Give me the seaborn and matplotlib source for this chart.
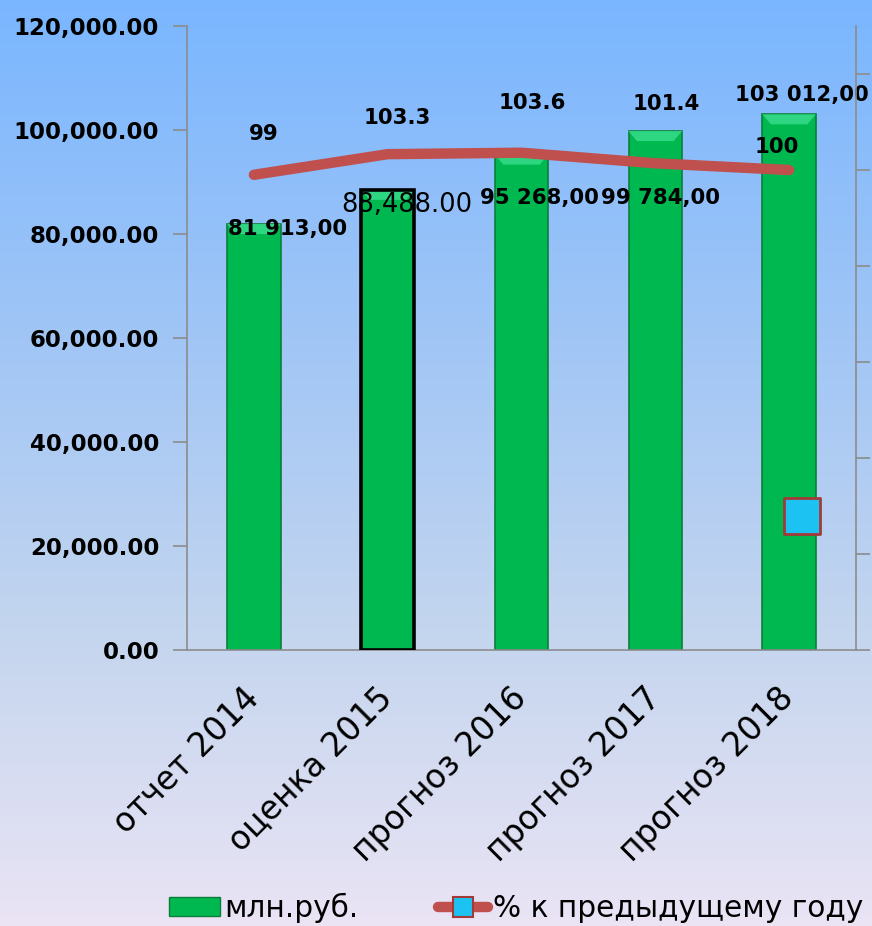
import numpy as np
import pandas as pd
import matplotlib
matplotlib.use('Agg')
import matplotlib.pyplot as plt
import seaborn as sns
from matplotlib.colors import LinearSegmentedColormap
from matplotlib.lines import Line2D
from matplotlib.patches import Patch, Polygon

# ---- data ----
categories = ['отчет 2014', 'оценка 2015', 'прогноз 2016', 'прогноз 2017', 'прогноз 2018']
values_mln = [81913, 88488, 95268, 99784, 103012]
bar_labels = ['81 913,00', '88,488.00', '95 268,00', '99 784,00', '103 012,00']
pct_values = [99, 103.3, 103.6, 101.4, 100]
pct_labels = ['99', '103.3', '103.6', '101.4', '100']
stray_marker_value = [28]
left_ticks = [0, 20000, 40000, 60000, 80000, 100000, 120000]
right_ticks = [0, 20, 40, 60, 80, 100, 120]
legend_labels = ['млн.руб.', '% к предыдущему году']

df = pd.DataFrame({'cat': categories, 'val': values_mln, 'pct': pct_values})

sns.set_theme(style='white')
plt.rcParams['font.family'] = ['DejaVu Sans']

fig = plt.figure(figsize=(8.72, 9.26), dpi=100)

# background gradient
bg = fig.add_axes([0, 0, 1, 1], zorder=-10)
cmap = LinearSegmentedColormap.from_list('bg', [(0.0, '#7AB6FF'), (0.35, '#9FC5F6'),
                                               (0.70, '#C6D6EE'), (1.0, '#EAE4F5')])
grad = np.linspace(0, 1, 256).reshape(-1, 1)
bg.imshow(grad, aspect='auto', cmap=cmap, extent=[0, 1, 0, 1], origin='upper')
bg.axis('off')

ax_h_px = 650 - 26
ax = fig.add_axes([187/872, 1-650/926, (856-187)/872, ax_h_px/926])
ax.set_facecolor('none')

sns.barplot(data=df, x='cat', y='val', ax=ax, color='#00B850', width=0.4,
            saturation=1, edgecolor='#0B7F3A', linewidth=1.2, zorder=2)
ax.set_ylim(0, 120000)
ax.set_xlim(-0.5, 4.5)

# bevel highlight on top of each bar
units_per_px = 120000 / ax_h_px
bars = list(ax.patches)
for i, p in enumerate(bars):
    x0 = p.get_x()
    w = p.get_width()
    top = p.get_height()
    h = 10 * units_per_px
    inset = w * 0.16
    ax.add_patch(Polygon([(x0, top), (x0 + w, top), (x0 + w - inset, top - h), (x0 + inset, top - h)],
                         closed=True, facecolor='#2ED681', edgecolor='none', zorder=2.5))
    if i == 1:
        ax.add_patch(Polygon([(x0, 0), (x0 + w, 0), (x0 + w, top), (x0, top)], closed=True,
                             facecolor='none', edgecolor='black', linewidth=2.6, zorder=2.7))

ax.set_yticks(left_ticks)
ax.set_yticklabels([f'{v:,.2f}' for v in left_ticks], fontsize=16.5, fontweight='bold', color='black')
ax.set_xticks(range(len(categories)))
ax.set_xticklabels(categories, rotation=45, ha='right', va='center',
                   rotation_mode='anchor', fontsize=23.5, color='black')
ax.set_xticks(np.arange(-0.5, 5, 1), minor=True)
ax.tick_params(axis='x', which='major', length=0, pad=31)
ax.tick_params(axis='x', which='minor', length=10, width=1.2, color='#8C8C8C', direction='out')
ax.tick_params(axis='y', length=10, width=1.2, color='#8C8C8C', direction='out', pad=10)
ax.set_xlabel('')
ax.set_ylabel('')
for s in ['top', 'right']:
    ax.spines[s].set_visible(False)
for s in ['left', 'bottom']:
    ax.spines[s].set_color('#8C8C8C')
    ax.spines[s].set_linewidth(1.2)

# bar labels
bar_offsets = [(34, -5), (19, -15), (18, -43), (5, -67), (13, 19)]
bar_styles = [('bold', 15.3), ('normal', 18.5), ('bold', 15.3), ('bold', 15.3), ('bold', 15.3)]
for i, (v, lab) in enumerate(zip(values_mln, bar_labels)):
    ax.annotate(lab, (i, v), xytext=bar_offsets[i], textcoords='offset pixels',
                ha='center', va='center', fontsize=bar_styles[i][1],
                fontweight=bar_styles[i][0], color='black', zorder=5)

# secondary axis with line
ax2 = ax.twinx()
ax2.set_facecolor('none')
sns.lineplot(data=df, x='cat', y='pct', ax=ax2, color='#C0504D', linewidth=7.5,
             solid_capstyle='round', solid_joinstyle='round', zorder=3, sort=False)
ax2.scatter([len(categories) - 1 + 0.1], stray_marker_value, marker='s', s=26**2,
            color='#1CC3F2', edgecolor='#A33A36', linewidth=2, zorder=4)
ax2.set_ylim(0, 130)
ax2.set_yticks(right_ticks)
ax2.set_yticklabels([])
ax2.set_ylabel('')
ax2.set_xlabel('')
ax2.tick_params(axis='y', length=10, width=1.2, color='#8C8C8C', direction='out')
for s in ['top', 'left', 'bottom']:
    ax2.spines[s].set_visible(False)
ax2.spines['right'].set_color('#8C8C8C')
ax2.spines['right'].set_linewidth(1.2)

pct_offsets = [(10, 41), (10, 36), (11, 50), (11, 59), (-12, 23)]
for i, (v, lab) in enumerate(zip(pct_values, pct_labels)):
    ax2.annotate(lab, (i, v), xytext=pct_offsets[i], textcoords='offset pixels',
                 ha='center', va='center', fontsize=15.3, fontweight='bold',
                 color='black', zorder=5)

# legend
h1 = Patch(facecolor='#00B850', edgecolor='#0B7F3A')
h2 = Line2D([0], [0], color='#C0504D', linewidth=7.5, solid_capstyle='round',
            marker='s', markersize=15, markerfacecolor='#1CC3F2',
            markeredgecolor='#A33A36', markeredgewidth=1.5)
fig.legend([h1, h2], legend_labels, loc='center', bbox_to_anchor=(0.592, 1-908/926),
           ncol=2, frameon=False, fontsize=21.3, handlelength=1.7, handletextpad=0.15,
           columnspacing=2.7, handleheight=0.6, labelcolor='black')

fig.savefig('out.png', dpi=100)
